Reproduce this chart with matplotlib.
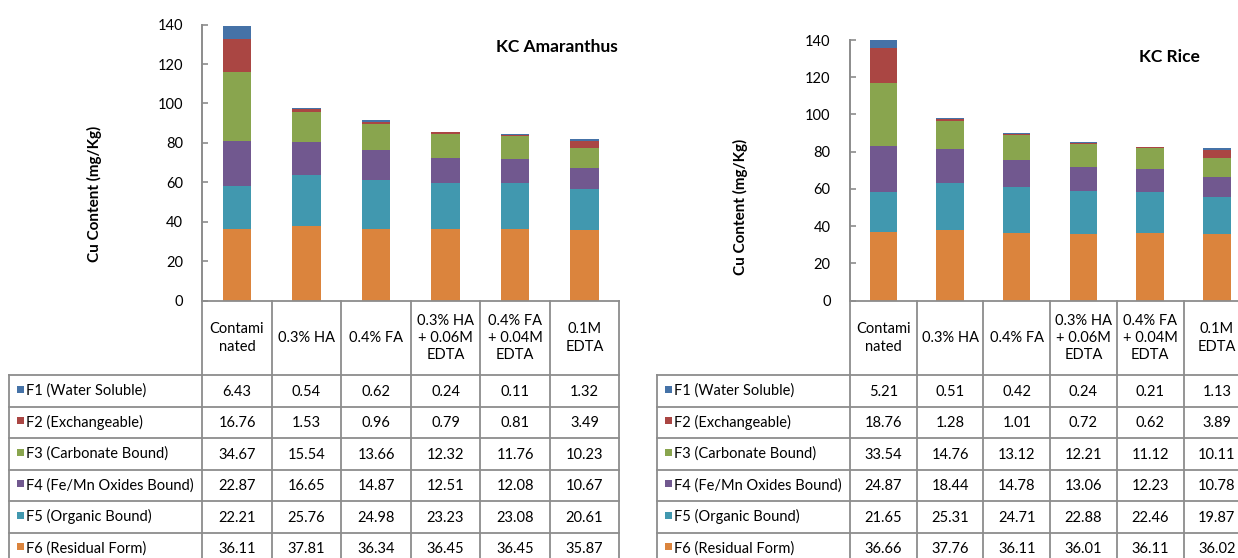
import matplotlib
matplotlib.use("Agg")
import matplotlib.pyplot as plt
from matplotlib.patches import Rectangle

plt.rcParams['font.family'] = ['Lato', 'DejaVu Sans']

# ---------------- data ----------------
categories = ["Contami\nnated", "0.3% HA", "0.4% FA",
              "0.3% HA\n+ 0.06M\nEDTA", "0.4% FA\n+ 0.04M\nEDTA", "0.1M\nEDTA"]
fractions = ["F1 (Water Soluble)", "F2 (Exchangeable)", "F3 (Carbonate Bound)",
             "F4 (Fe/Mn Oxides Bound)", "F5 (Organic Bound)", "F6 (Residual Form)"]
colors = ["#4572A7", "#AA4643", "#89A54E", "#71588F", "#4198AF", "#DB843D"]

amaranthus_f1 = [6.43, 0.54, 0.62, 0.24, 0.11, 1.32]
amaranthus_f2 = [16.76, 1.53, 0.96, 0.79, 0.81, 3.49]
amaranthus_f3 = [34.67, 15.54, 13.66, 12.32, 11.76, 10.23]
amaranthus_f4 = [22.87, 16.65, 14.87, 12.51, 12.08, 10.67]
amaranthus_f5 = [22.21, 25.76, 24.98, 23.23, 23.08, 20.61]
amaranthus_f6 = [36.11, 37.81, 36.34, 36.45, 36.45, 35.87]

rice_f1 = [5.21, 0.51, 0.42, 0.24, 0.21, 1.13]
rice_f2 = [18.76, 1.28, 1.01, 0.72, 0.62, 3.89]
rice_f3 = [33.54, 14.76, 13.12, 12.21, 11.12, 10.11]
rice_f4 = [24.87, 18.44, 14.78, 13.06, 12.23, 10.78]
rice_f5 = [21.65, 25.31, 24.71, 22.88, 22.46, 19.87]
rice_f6 = [36.66, 37.76, 36.11, 36.01, 36.11, 36.02]

y_ticks = [0, 20, 40, 60, 80, 100, 120, 140]
y_label = "Cu Content (mg/Kg)"

# ---------------- layout ----------------
W, H = 1238, 558
fig = plt.figure(figsize=(W / 100, H / 100), dpi=100)
fig.patch.set_facecolor("white")

ov = fig.add_axes([0, 0, 1, 1], zorder=5)
ov.set_xlim(0, W)
ov.set_ylim(H, 0)
ov.axis("off")

GRID = "#8C8C8C"
FS = 10.5


def panel(series, title, axis_x0, col_w, label_x0, y_zero, y_top, title_xy, ylabel_xy):
    n = len(categories)
    ax = fig.add_axes([axis_x0 / W, 1 - y_zero / H, n * col_w / W, (y_zero - y_top) / H],
                      zorder=2)
    ax.set_xlim(-0.5, n - 0.5)
    ax.set_ylim(0, 140)
    x = list(range(n))
    # stack: F6 at the bottom up to F1 on top
    bottom = [0.0] * n
    for vals, col in zip(series[::-1], colors[::-1]):
        ax.bar(x, vals, width=0.41, bottom=bottom, color=col, linewidth=0)
        bottom = [b + v for b, v in zip(bottom, vals)]
    for s in ["top", "right", "bottom"]:
        ax.spines[s].set_visible(False)
    ax.spines["left"].set_color(GRID)
    ax.spines["left"].set_linewidth(1.4)
    ax.set_xticks([])
    ax.set_yticks(y_ticks)
    ax.tick_params(axis="y", direction="in", length=4, width=1.2, color=GRID,
                   labelsize=10.5, pad=14)
    ax.patch.set_alpha(0)

    ov.text(title_xy[0], title_xy[1], title, ha="center", va="center",
            fontsize=12.5, fontweight="bold")
    ov.text(ylabel_xy[0], ylabel_xy[1], y_label, rotation=90, ha="center",
            va="center", fontsize=11, fontweight="bold")

    # table
    head_top, head_bot, row_h = 301, 375, 31.5
    right = axis_x0 + n * col_w
    nrows = len(fractions)
    bottom_y = head_bot + nrows * row_h
    lw = 1.3
    ov.plot([axis_x0, right], [head_top, head_top], color=GRID, lw=lw)
    for i in range(n + 1):
        xx = axis_x0 + i * col_w
        ov.plot([xx, xx], [head_top, bottom_y], color=GRID, lw=lw)
    ov.plot([label_x0, label_x0], [head_bot, bottom_y], color=GRID, lw=lw)
    for k in range(nrows + 1):
        yy = head_bot + k * row_h
        ov.plot([label_x0, right], [yy, yy], color=GRID, lw=lw)
    for i, c in enumerate(categories):
        ov.text(axis_x0 + (i + 0.5) * col_w, (head_top + head_bot) / 2, c,
                ha="center", va="center", fontsize=FS, linespacing=1.3)
    for r, (name, vals, col) in enumerate(zip(fractions, series, colors)):
        yc = head_bot + (r + 0.5) * row_h
        ov.add_patch(Rectangle((label_x0 + 7.5, yc - 5), 7, 7, color=col, lw=0))
        ov.text(label_x0 + 17, yc, name, ha="left", va="center", fontsize=FS)
        for i, v in enumerate(vals):
            ov.text(axis_x0 + (i + 0.5) * col_w, yc + 1, f"{v:.2f}", ha="center",
                    va="center", fontsize=FS)


panel([amaranthus_f1, amaranthus_f2, amaranthus_f3, amaranthus_f4, amaranthus_f5, amaranthus_f6],
      "KC Amaranthus", 202.3, 69.5, 9.3, 300.7, 24.6, (557, 47), (94, 194))
panel([rice_f1, rice_f2, rice_f3, rice_f4, rice_f5, rice_f6],
      "KC Rice", 850, 66.7, 657.3, 300.7, 40, (1169, 57), (740, 207))

fig.savefig("out.png", dpi=100)
